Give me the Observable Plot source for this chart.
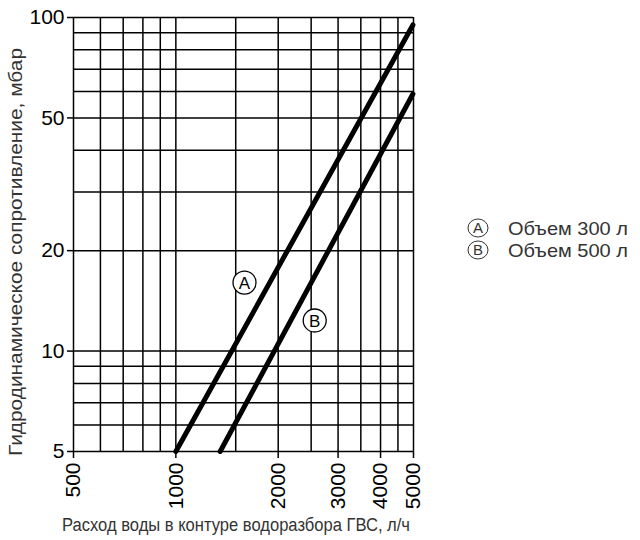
<!DOCTYPE html>
<html><head><meta charset="utf-8">
<script src="https://cdn.jsdelivr.net/npm/d3@7"></script>
<script src="https://cdn.jsdelivr.net/npm/@observablehq/plot@0.6"></script>
<style>
body{margin:0;background:#fff;}
#chart{position:relative;width:640px;height:540px;}
</style>
</head><body><div id="chart"></div>
<script>
const xTicks = [500, 1000, 2000, 3000, 4000, 5000];
const yTicks = [5, 10, 20, 50, 100];
const xGrid = [500, 600, 700, 800, 900, 1000, 1500, 2000, 2500, 3000, 3500, 4000, 4500, 5000];
const yGrid = [5, 6, 7, 8, 9, 10, 20, 30, 40, 50, 60, 70, 80, 90, 100];
const seriesA = [{q: 1000, p: 5}, {q: 4980, p: 95}];
const seriesB = [{q: 1350, p: 5}, {q: 4980, p: 59}];
const markers = [{q: 1592, p: 16.05, t: "A"}, {q: 2561, p: 12.35, t: "B"}];
const legendItems = [{t: "A", label: "Объем 300 л"}, {t: "B", label: "Объем 500 л"}];
const xLabel = "Расход воды в контуре водоразбора ГВС, л/ч";
const yLabel = "Гидродинамическое сопротивление, мбар";

const font = "Liberation Sans, Arial, sans-serif";
const chart = Plot.plot({
  width: 640, height: 540,
  marginLeft: 73, marginRight: 227, marginTop: 17, marginBottom: 89,
  style: {fontFamily: font, background: "#fff", color: "#000"},
  x: {type: "log", domain: [500, 5000]},
  y: {type: "log", domain: [5, 100]},
  marks: [
    Plot.ruleX(xGrid, {x: d => d, y1: 5, y2: 100, stroke: "#000", strokeWidth: 1.5}),
    Plot.ruleY(yGrid, {y: d => d, x1: 500, x2: 5000, stroke: "#000", strokeWidth: 1.5}),
    Plot.axisY({ticks: yTicks, tickFormat: d => String(d), tickSize: 6, fontSize: 21, label: null, tickPadding: 3, stroke: "#000", strokeWidth: 1.5, fill: "#000"}),
    Plot.axisX({ticks: xTicks, tickFormat: d => String(d), tickSize: 7, fontSize: 21, label: null, tickRotate: -90, tickPadding: 4, stroke: "#000", strokeWidth: 1.5, fill: "#000"}),
    Plot.line(seriesA, {x: "q", y: "p", stroke: "#000", strokeWidth: 5}),
    Plot.line(seriesB, {x: "q", y: "p", stroke: "#000", strokeWidth: 5}),
    Plot.dot(markers, {x: "q", y: "p", r: 11.5, fill: "#fff", stroke: "#000", strokeWidth: 1.3}),
    Plot.text(markers, {x: "q", y: "p", text: "t", fontSize: 17, fill: "#000", dy: 1})
  ]
});
document.getElementById("chart").appendChild(chart);

// axis labels and legend as SVG text
const svg = d3.select(chart);
svg.append("text").attr("transform", "translate(22,252) rotate(-90)")
  .attr("text-anchor", "middle").attr("font-size", 18).attr("fill", "#333")
  .attr("textLength", 408).attr("lengthAdjust", "spacingAndGlyphs")
  .attr("font-family", font).text(yLabel);
svg.append("text").attr("x", 236).attr("y", 531)
  .attr("text-anchor", "middle").attr("font-size", 18).attr("fill", "#333")
  .attr("textLength", 348).attr("lengthAdjust", "spacingAndGlyphs")
  .attr("font-family", font).text(xLabel);
svg.selectAll("g.leg").data(legendItems).join("g")
  .attr("class", "leg")
  .attr("transform", (d, i) => `translate(478,${228 + i * 22})`)
  .each(function(d) {
    const g = d3.select(this);
    g.append("ellipse").attr("rx", 10).attr("ry", 9).attr("fill", "#fff").attr("stroke", "#333").attr("stroke-width", 1);
    g.append("text").attr("text-anchor", "middle").attr("dy", "0.36em").attr("font-size", 15).attr("fill", "#333").attr("font-family", font).text(d.t);
    g.append("text").attr("x", 30).attr("text-anchor", "start").attr("dy", "0.36em").attr("font-size", 19).attr("fill", "#333")
      .attr("textLength", 120).attr("lengthAdjust", "spacingAndGlyphs").attr("font-family", font).text(d.label);
  });
</script>
</body></html>
